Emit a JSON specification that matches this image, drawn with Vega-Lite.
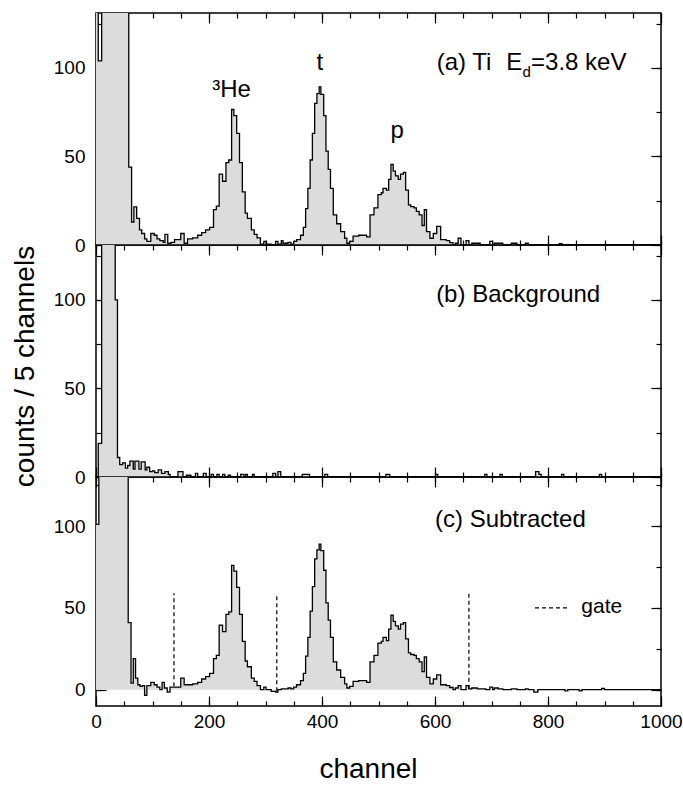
{
  "$schema": "https://vega.github.io/schema/vega-lite/v6.json",
  "padding": {"left": 10, "top": 11, "right": 0, "bottom": 5},
  "background": "white",
  "config": {
    "font": "Liberation Sans",
    "view": {"stroke": "black", "strokeWidth": 1.5},
    "axis": {"domain": false, "grid": false, "labelFont": "Liberation Sans", "labelFontSize": 19, "labelColor": "black", "tickColor": "black", "tickWidth": 1.2, "titleFont": "Liberation Sans", "titleFontWeight": "normal", "titleColor": "black", "labelFlush": false, "labelOverlap": false, "format": "d"},
    "text": {"font": "Liberation Sans", "color": "black"}
  },
  "datasets": {
    "a": [
      {"ch":0,"v":400},{"ch":4,"v":104},{"ch":10,"v":400},{"ch":58,"v":44},{"ch":63,"v":13},{"ch":67,"v":21.5},{"ch":72,"v":15},{"ch":77,"v":8.5},{"ch":81,"v":6.5},{"ch":86,"v":3.5},{"ch":90,"v":2},{"ch":97,"v":6.5},{"ch":103,"v":5.5},{"ch":108,"v":3.5},{"ch":113,"v":2.5},{"ch":119,"v":1.5},{"ch":122,"v":6},{"ch":127,"v":1},{"ch":133,"v":1.5},{"ch":139,"v":3},{"ch":146,"v":3},{"ch":150,"v":6.5},{"ch":156,"v":1},{"ch":162,"v":3.5},{"ch":171,"v":4},{"ch":180,"v":5.5},{"ch":187,"v":7},{"ch":194,"v":8.5},{"ch":201,"v":10},{"ch":208,"v":20},{"ch":213,"v":22},{"ch":218,"v":40},{"ch":224,"v":36},{"ch":230,"v":46.5},{"ch":235,"v":48},{"ch":240,"v":76.5},{"ch":244,"v":73},{"ch":249,"v":63},{"ch":254,"v":46.5},{"ch":259,"v":30},{"ch":264,"v":18},{"ch":268,"v":15},{"ch":275,"v":8.5},{"ch":280,"v":6},{"ch":285,"v":4},{"ch":291,"v":0.5},{"ch":297,"v":2},{"ch":301,"v":0.5},{"ch":310,"v":0},{"ch":318,"v":2},{"ch":322,"v":0.5},{"ch":328,"v":2.5},{"ch":331,"v":1},{"ch":340,"v":1.5},{"ch":345,"v":0.5},{"ch":350,"v":2},{"ch":355,"v":3},{"ch":362,"v":5.5},{"ch":367,"v":10},{"ch":371,"v":20.5},{"ch":375,"v":32},{"ch":379,"v":48},{"ch":383,"v":63},{"ch":387,"v":80},{"ch":391,"v":85.5},{"ch":395,"v":89.3},{"ch":398,"v":85},{"ch":403,"v":73},{"ch":407,"v":53},{"ch":411,"v":42.7},{"ch":415,"v":32},{"ch":420,"v":17},{"ch":426,"v":12},{"ch":433,"v":7.6},{"ch":440,"v":3.8},{"ch":444,"v":1},{"ch":449,"v":2},{"ch":455,"v":5},{"ch":465,"v":5.5},{"ch":479,"v":4.6},{"ch":485,"v":17},{"ch":492,"v":21},{"ch":499,"v":28.4},{"ch":505,"v":29.5},{"ch":508,"v":32},{"ch":514,"v":31},{"ch":518,"v":37},{"ch":522,"v":45.5},{"ch":526,"v":41.7},{"ch":530,"v":39},{"ch":535,"v":37},{"ch":539,"v":40},{"ch":544,"v":41},{"ch":548,"v":31},{"ch":553,"v":22.7},{"ch":557,"v":21.7},{"ch":563,"v":21},{"ch":567,"v":19},{"ch":572,"v":17},{"ch":577,"v":11},{"ch":581,"v":20},{"ch":585,"v":7.6},{"ch":591,"v":3.8},{"ch":597,"v":6.5},{"ch":603,"v":10.5},{"ch":610,"v":3},{"ch":620,"v":2.5},{"ch":626,"v":1.3},{"ch":632,"v":0},{"ch":636,"v":1},{"ch":641,"v":3.8},{"ch":646,"v":0},{"ch":655,"v":2.5},{"ch":660,"v":0},{"ch":665,"v":1},{"ch":680,"v":0},{"ch":697,"v":2},{"ch":702,"v":0},{"ch":705,"v":1},{"ch":720,"v":0},{"ch":735,"v":1},{"ch":745,"v":0},{"ch":760,"v":1},{"ch":765,"v":0},{"ch":820,"v":0.7},{"ch":825,"v":0},{"ch":1000,"v":0}
    ],
    "b": [
      {"ch":0,"v":0},{"ch":4,"v":19},{"ch":10,"v":400},{"ch":34,"v":100},{"ch":38,"v":11},{"ch":42,"v":7},{"ch":47,"v":8},{"ch":52,"v":5},{"ch":56,"v":6.5},{"ch":60,"v":9},{"ch":66,"v":4.5},{"ch":69,"v":9},{"ch":76,"v":4.5},{"ch":80,"v":8.5},{"ch":87,"v":4},{"ch":90,"v":5.5},{"ch":95,"v":3},{"ch":100,"v":3.5},{"ch":104,"v":2.5},{"ch":110,"v":4},{"ch":116,"v":2},{"ch":122,"v":3},{"ch":128,"v":1.5},{"ch":131,"v":0},{"ch":145,"v":3},{"ch":154,"v":0},{"ch":160,"v":1},{"ch":168,"v":0},{"ch":176,"v":2},{"ch":180,"v":0},{"ch":190,"v":2},{"ch":195,"v":0},{"ch":204,"v":1.5},{"ch":208,"v":0},{"ch":214,"v":1.5},{"ch":218,"v":0},{"ch":224,"v":1.5},{"ch":228,"v":0},{"ch":234,"v":1},{"ch":238,"v":0},{"ch":256,"v":1.5},{"ch":262,"v":0},{"ch":265,"v":1.5},{"ch":268,"v":0},{"ch":277,"v":1.5},{"ch":280,"v":0},{"ch":313,"v":2},{"ch":318,"v":0},{"ch":322,"v":3},{"ch":327,"v":0},{"ch":365,"v":1.5},{"ch":378,"v":0},{"ch":405,"v":1.5},{"ch":410,"v":0},{"ch":513,"v":1.5},{"ch":520,"v":0},{"ch":601,"v":1.5},{"ch":605,"v":0},{"ch":688,"v":1.5},{"ch":692,"v":0},{"ch":715,"v":1.5},{"ch":719,"v":0},{"ch":778,"v":3},{"ch":784,"v":1.5},{"ch":788,"v":0},{"ch":824,"v":1.5},{"ch":828,"v":0},{"ch":891,"v":1.5},{"ch":895,"v":0},{"ch":1000,"v":0}
    ],
    "c": [
      {"ch":0,"v":101},{"ch":5,"v":400},{"ch":57,"v":41},{"ch":62,"v":4},{"ch":66,"v":19},{"ch":70,"v":7},{"ch":74,"v":3},{"ch":78,"v":2},{"ch":82,"v":2.5},{"ch":86,"v":-3.5},{"ch":90,"v":2.5},{"ch":97,"v":4.5},{"ch":103,"v":3},{"ch":108,"v":1.5},{"ch":113,"v":0},{"ch":117,"v":4.5},{"ch":121,"v":1},{"ch":126,"v":-1.5},{"ch":131,"v":1.5},{"ch":136,"v":1.5},{"ch":146,"v":1.5},{"ch":150,"v":7},{"ch":156,"v":3},{"ch":162,"v":3},{"ch":171,"v":3.5},{"ch":180,"v":4.5},{"ch":187,"v":6.5},{"ch":194,"v":8},{"ch":201,"v":10},{"ch":208,"v":19},{"ch":213,"v":21},{"ch":218,"v":39.5},{"ch":224,"v":35.5},{"ch":230,"v":46},{"ch":235,"v":47.5},{"ch":240,"v":76},{"ch":244,"v":72.5},{"ch":249,"v":62.5},{"ch":254,"v":46},{"ch":259,"v":29.5},{"ch":264,"v":17.5},{"ch":268,"v":14},{"ch":275,"v":7},{"ch":280,"v":5},{"ch":285,"v":2.5},{"ch":291,"v":0},{"ch":297,"v":1.5},{"ch":301,"v":0},{"ch":310,"v":-1},{"ch":318,"v":-1.5},{"ch":322,"v":0},{"ch":328,"v":0.5},{"ch":340,"v":1},{"ch":345,"v":0.5},{"ch":350,"v":1.5},{"ch":355,"v":3},{"ch":362,"v":5.5},{"ch":367,"v":10},{"ch":371,"v":20.5},{"ch":375,"v":32},{"ch":379,"v":48},{"ch":383,"v":63},{"ch":387,"v":80},{"ch":391,"v":85.5},{"ch":395,"v":89},{"ch":398,"v":85},{"ch":403,"v":73},{"ch":407,"v":53},{"ch":411,"v":42.5},{"ch":415,"v":32},{"ch":420,"v":17},{"ch":426,"v":12},{"ch":433,"v":7.5},{"ch":440,"v":3.5},{"ch":444,"v":1},{"ch":449,"v":2},{"ch":455,"v":5},{"ch":465,"v":5.5},{"ch":479,"v":4.5},{"ch":485,"v":17},{"ch":492,"v":21},{"ch":499,"v":28.5},{"ch":505,"v":29.5},{"ch":508,"v":32},{"ch":514,"v":30},{"ch":518,"v":37},{"ch":522,"v":45.5},{"ch":526,"v":41.7},{"ch":530,"v":39},{"ch":535,"v":37},{"ch":539,"v":40},{"ch":544,"v":41},{"ch":548,"v":31},{"ch":553,"v":22.5},{"ch":557,"v":21.5},{"ch":563,"v":21},{"ch":567,"v":19},{"ch":572,"v":17},{"ch":577,"v":11},{"ch":581,"v":20},{"ch":585,"v":7.5},{"ch":591,"v":3.5},{"ch":597,"v":6.5},{"ch":603,"v":9},{"ch":610,"v":3},{"ch":620,"v":2.5},{"ch":626,"v":1.3},{"ch":632,"v":0},{"ch":636,"v":1},{"ch":641,"v":2.5},{"ch":646,"v":0},{"ch":655,"v":2.5},{"ch":660,"v":0.5},{"ch":665,"v":1},{"ch":675,"v":0.5},{"ch":690,"v":0},{"ch":697,"v":1.5},{"ch":702,"v":0},{"ch":705,"v":1},{"ch":712,"v":0.5},{"ch":720,"v":0},{"ch":735,"v":0.5},{"ch":745,"v":0},{"ch":760,"v":0.5},{"ch":765,"v":0},{"ch":775,"v":-1.5},{"ch":782,"v":0},{"ch":830,"v":-0.8},{"ch":835,"v":0},{"ch":855,"v":-0.8},{"ch":860,"v":0},{"ch":895,"v":0.7},{"ch":900,"v":0},{"ch":1000,"v":0}
    ],
    "peaks": [
      {"ch":240,"v":83.5,"label":"³He"},{"ch":396,"v":99,"label":"t"},{"ch":533,"v":60.5,"label":"p"}
    ],
    "gates": [
      {"ch":138,"v":2,"v2":59},{"ch":320,"v":-1,"v2":59},{"ch":660,"v":0.5,"v2":59}
    ],
    "gatekey": [{"ch":777,"ch2":839,"v":50}]
  },
  "spacing": 0,
  "bounds": "flush",
  "vconcat": [
    {
      "width": 565, "height": 232,
      "resolve": {"axis": {"x": "independent", "y": "independent"}},
      "layer": [
        {"data": {"name": "a"},
         "mark": {"type": "area", "interpolate": "step-after", "color": "#dcdcdc", "clip": true},
         "encoding": {
           "x": {"field": "ch", "type": "quantitative", "scale": {"domain": [0, 1000], "nice": false},
                 "axis": {"orient": "bottom", "values": [0,50,100,150,200,250,300,350,400,450,500,550,600,650,700,750,800,850,900,950,1000], "tickSize": -5, "labels": false, "title": null}},
           "y": {"field": "v", "type": "quantitative", "scale": {"domain": [0, 131], "nice": false},
                 "axis": {"orient": "left", "values": [0,25,50,75,100,125], "tickSize": -5, "labels": false, "title": null}}
         }},
        {"data": {"name": "a"},
         "mark": {"type": "line", "interpolate": "step-after", "color": "black", "strokeWidth": 1.3, "clip": true},
         "encoding": {
           "x": {"field": "ch", "type": "quantitative", "scale": {"domain": [0, 1000], "nice": false},
                 "axis": {"orient": "bottom", "values": [0,200,400,600,800,1000], "tickSize": -10, "labels": false, "title": null}},
           "y": {"field": "v", "type": "quantitative", "scale": {"domain": [0, 131], "nice": false},
                 "axis": {"orient": "left", "values": [0,50,100], "tickSize": -10, "labelPadding": 21, "title": null}}
         }},
        {"data": {"name": "peaks"},
         "mark": {"type": "text", "fontSize": 24, "baseline": "alphabetic", "align": "center"},
         "encoding": {
           "x": {"field": "ch", "type": "quantitative", "scale": {"domain": [0, 1000], "nice": false},
                 "axis": {"orient": "top", "values": [0,50,100,150,200,250,300,350,400,450,500,550,600,650,700,750,800,850,900,950,1000], "tickSize": -5, "labels": false, "title": null}},
           "y": {"field": "v", "type": "quantitative", "scale": {"domain": [0, 131], "nice": false},
                 "axis": {"orient": "right", "values": [0,25,50,75,100,125], "tickSize": -5, "labels": false, "title": null}},
           "text": {"field": "label"}
         }},
        {"data": {"values": [{"ch": 603, "v": 99, "label": "(a) Ti"}, {"ch": 726, "v": 99, "label": "E"}, {"ch": 770, "v": 99, "label": "=3.8 keV"}]},
         "mark": {"type": "text", "fontSize": 24, "baseline": "alphabetic", "align": "left"},
         "encoding": {
           "x": {"field": "ch", "type": "quantitative", "scale": {"domain": [0, 1000], "nice": false},
                 "axis": {"orient": "top", "values": [0,200,400,600,800,1000], "tickSize": -10, "labels": false, "title": null}},
           "y": {"field": "v", "type": "quantitative", "scale": {"domain": [0, 131], "nice": false},
                 "axis": {"orient": "right", "values": [0,50,100], "tickSize": -10, "labels": false, "title": null}},
           "text": {"field": "label"}
         }},
        {"data": {"values": [{"ch": 755, "v": 95, "label": "d"}]},
         "mark": {"type": "text", "fontSize": 15, "baseline": "alphabetic", "align": "left"},
         "encoding": {
           "x": {"field": "ch", "type": "quantitative", "scale": {"domain": [0, 1000], "nice": false}, "axis": null},
           "y": {"field": "v", "type": "quantitative", "scale": {"domain": [0, 131], "nice": false}, "axis": null},
           "text": {"field": "label"}
         }}
      ]
    },
    {
      "width": 565, "height": 232,
      "resolve": {"axis": {"x": "independent", "y": "independent"}},
      "layer": [
        {"data": {"name": "b"},
         "mark": {"type": "area", "interpolate": "step-after", "color": "#dcdcdc", "clip": true},
         "encoding": {
           "x": {"field": "ch", "type": "quantitative", "scale": {"domain": [0, 1000], "nice": false},
                 "axis": {"orient": "bottom", "values": [0,50,100,150,200,250,300,350,400,450,500,550,600,650,700,750,800,850,900,950,1000], "tickSize": -5, "labels": false, "title": null}},
           "y": {"field": "v", "type": "quantitative", "scale": {"domain": [0, 131], "nice": false},
                 "axis": {"orient": "left", "values": [0,25,50,75,100,125], "tickSize": -5, "labels": false, "title": null}}
         }},
        {"data": {"name": "b"},
         "mark": {"type": "line", "interpolate": "step-after", "color": "black", "strokeWidth": 1.3, "clip": true},
         "encoding": {
           "x": {"field": "ch", "type": "quantitative", "scale": {"domain": [0, 1000], "nice": false},
                 "axis": {"orient": "bottom", "values": [0,200,400,600,800,1000], "tickSize": -10, "labels": false, "title": null}},
           "y": {"field": "v", "type": "quantitative", "scale": {"domain": [0, 131], "nice": false},
                 "axis": {"orient": "left", "values": [0,50,100], "tickSize": -10, "labelPadding": 21, "title": "counts / 5 channels", "titleFontSize": 28, "titleX": -63, "titleY": 121, "titleAngle": 270, "titleBaseline": "alphabetic", "titleAlign": "center"}}
         }},
        {"data": {"values": [{"ch": 602, "v": 99, "label": "(b) Background"}]},
         "mark": {"type": "text", "fontSize": 24, "baseline": "alphabetic", "align": "left"},
         "encoding": {
           "x": {"field": "ch", "type": "quantitative", "scale": {"domain": [0, 1000], "nice": false},
                 "axis": {"orient": "top", "values": [0,50,100,150,200,250,300,350,400,450,500,550,600,650,700,750,800,850,900,950,1000], "tickSize": -5, "labels": false, "title": null}},
           "y": {"field": "v", "type": "quantitative", "scale": {"domain": [0, 131], "nice": false},
                 "axis": {"orient": "right", "values": [0,25,50,75,100,125], "tickSize": -5, "labels": false, "title": null}},
           "text": {"field": "label"}
         }},
        {"data": {"values": [{"ch": 602, "v": 99, "label": ""}]},
         "mark": {"type": "text", "fontSize": 24},
         "encoding": {
           "x": {"field": "ch", "type": "quantitative", "scale": {"domain": [0, 1000], "nice": false},
                 "axis": {"orient": "top", "values": [0,200,400,600,800,1000], "tickSize": -10, "labels": false, "title": null}},
           "y": {"field": "v", "type": "quantitative", "scale": {"domain": [0, 131], "nice": false},
                 "axis": {"orient": "right", "values": [0,50,100], "tickSize": -10, "labels": false, "title": null}},
           "text": {"field": "label"}
         }}
      ]
    },
    {
      "width": 565, "height": 229,
      "resolve": {"axis": {"x": "independent", "y": "independent"}},
      "layer": [
        {"data": {"name": "c"},
         "mark": {"type": "area", "interpolate": "step-after", "color": "#dcdcdc", "clip": true},
         "encoding": {
           "x": {"field": "ch", "type": "quantitative", "scale": {"domain": [0, 1000], "nice": false},
                 "axis": {"orient": "bottom", "values": [0,50,100,150,200,250,300,350,400,450,500,550,600,650,700,750,800,850,900,950,1000], "tickSize": -5, "labels": false, "title": null}},
           "y": {"field": "v", "type": "quantitative", "scale": {"domain": [-10, 130], "nice": false},
                 "axis": {"orient": "left", "values": [0,25,50,75,100,125], "tickSize": -5, "labels": false, "title": null}}
         }},
        {"data": {"name": "c"},
         "mark": {"type": "line", "interpolate": "step-after", "color": "black", "strokeWidth": 1.3, "clip": true},
         "encoding": {
           "x": {"field": "ch", "type": "quantitative", "scale": {"domain": [0, 1000], "nice": false},
                 "axis": {"orient": "bottom", "values": [0,200,400,600,800,1000], "tickSize": -10, "labelPadding": 16, "format": "d", "title": "channel", "titleFontSize": 28, "titleX": 272, "titleY": 71, "titleBaseline": "alphabetic", "titleAlign": "center"}},
           "y": {"field": "v", "type": "quantitative", "scale": {"domain": [-10, 130], "nice": false},
                 "axis": {"orient": "left", "values": [0,50,100], "tickSize": -10, "labelPadding": 21, "title": null}}
         }},
        {"data": {"values": [{"ch": 600, "v": 99.5, "label": "(c) Subtracted"}]},
         "mark": {"type": "text", "fontSize": 24, "baseline": "alphabetic", "align": "left"},
         "encoding": {
           "x": {"field": "ch", "type": "quantitative", "scale": {"domain": [0, 1000], "nice": false},
                 "axis": {"orient": "top", "values": [0,50,100,150,200,250,300,350,400,450,500,550,600,650,700,750,800,850,900,950,1000], "tickSize": -5, "labels": false, "title": null}},
           "y": {"field": "v", "type": "quantitative", "scale": {"domain": [-10, 130], "nice": false},
                 "axis": {"orient": "right", "values": [0,25,50,75,100,125], "tickSize": -5, "labels": false, "title": null}},
           "text": {"field": "label"}
         }},
        {"data": {"values": [{"ch": 859, "v": 47, "label": "gate"}]},
         "mark": {"type": "text", "fontSize": 21, "baseline": "alphabetic", "align": "left"},
         "encoding": {
           "x": {"field": "ch", "type": "quantitative", "scale": {"domain": [0, 1000], "nice": false},
                 "axis": {"orient": "top", "values": [0,200,400,600,800,1000], "tickSize": -10, "labels": false, "title": null}},
           "y": {"field": "v", "type": "quantitative", "scale": {"domain": [-10, 130], "nice": false},
                 "axis": {"orient": "right", "values": [0,50,100], "tickSize": -10, "labels": false, "title": null}},
           "text": {"field": "label"}
         }},
        {"data": {"name": "gates"},
         "mark": {"type": "rule", "color": "black", "strokeWidth": 1.2, "strokeDash": [4, 3]},
         "encoding": {
           "x": {"field": "ch", "type": "quantitative", "scale": {"domain": [0, 1000], "nice": false}, "axis": null},
           "y": {"field": "v", "type": "quantitative", "scale": {"domain": [-10, 130], "nice": false}, "axis": null},
           "y2": {"field": "v2"}
         }},
        {"data": {"name": "gatekey"},
         "mark": {"type": "rule", "color": "black", "strokeWidth": 1.2, "strokeDash": [4, 3]},
         "encoding": {
           "x": {"field": "ch", "type": "quantitative", "scale": {"domain": [0, 1000], "nice": false}, "axis": null},
           "x2": {"field": "ch2"},
           "y": {"field": "v", "type": "quantitative", "scale": {"domain": [-10, 130], "nice": false}, "axis": null}
         }}
      ]
    }
  ]
}
